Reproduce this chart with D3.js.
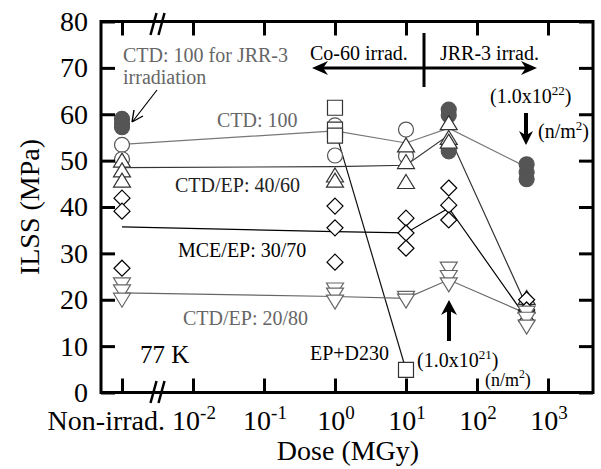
<!DOCTYPE html>
<html>
<head>
<meta charset="utf-8">
<script src="https://cdn.jsdelivr.net/npm/d3@7"></script>
<style>
  body { margin: 0; background: #fff; }
  svg, svg text { font-family: "Liberation Serif", "DejaVu Serif", "Times New Roman", serif; }
</style>
</head>
<body>
<script>
"use strict";

// dose columns (MGy); the non-irradiated samples sit one decade left of 10^-2, before the axis break
const NON_IRRAD = 1e-3;
const doses = [NON_IRRAD, 1, 10, 40, 500];

const xTickDoses = [NON_IRRAD, 1e-2, 1e-1, 1, 10, 100, 1000];
const xTickExp = [null, "-2", "-1", "0", "1", "2", "3"];
const yTicks = [0, 10, 20, 30, 40, 50, 60, 70, 80];

// individual ILSS values (MPa) per dose column
const ctd100Pts  = [[53.4, 50.3], [57.6, 51.1], [56.7, 51], [], []];
const jrrPts     = [[59, 58, 57.2], [], [], [61, 59.8, 52.6, 52], [49.2, 47.5, 46]];
const epD230Pts  = [[], [61.4, 56.7, 55.4], [4.9], [], []];
const ctdEp4060Pts = [[50.1, 48, 45.8], [46.9, 45.8], [53.4, 49.8, 45.5], [58.2, 55, 54.2], [20.5, 18.7]];
const mceEp3070Pts = [[41.9, 39.1, 26.8], [40.2, 35.5, 28.1], [37.6, 34.4, 31.1], [44.1, 40.4, 37.2], [20, 17.8, 15.4]];
const ctdEp2080Pts = [[23.2, 21.7, 19.9], [22.1, 21, 19.5], [20.3, 19.7], [26.6, 24.8, 23.2], [17.1, 15.8, 14.1]];

// average lines
const ctd100Line    = [53.5, 56.4, 53.8, 57, 48.6];
const epD230Line    = [null, 56.7, 4.9, null, null];
const ctdEp4060Line = [48.5, 48.7, 49, 55.5, 18.6];
const mceEp3070Line = [35.7, 34.7, 34.4, 39.8, 16];
const ctdEp2080Line = [21.5, 20.7, 20.3, 24.3, 17];

const FONT = "'Liberation Serif', 'DejaVu Serif', 'Times New Roman', serif";
const width = 601, height = 469;
const frame = {left: 101, right: 593, top: 21.5, bottom: 392.5};

let svg = d3.select("body").append("svg")
    .attr("width", width)
    .attr("height", height)
    .attr("font-family", FONT);

let x = d3.scaleLog().domain([1e-2, 1e3]).range([193, 548]);
let y = d3.scaleLinear().domain([0, 80]).range([frame.bottom, frame.top]);

// ---- lines (under markers)
let line = d3.line()
    .defined(d => d[1] != null)
    .x(d => x(d[0]))
    .y(d => y(d[1]));

function drawLine(vals, color) {
    svg.append("path")
        .attr("d", line(doses.map((d, i) => [d, vals[i]])))
        .attr("fill", "none")
        .attr("stroke", color)
        .attr("stroke-width", 1.2);
}
drawLine(ctd100Line, "#777");
drawLine(epD230Line, "#111");
drawLine(ctdEp4060Line, "#333");
drawLine(mceEp3070Line, "#000");
drawLine(ctdEp2080Line, "#666");

// ---- markers
const shapes = {
    circle: d3.symbol(d3.symbolCircle, Math.PI * 7.5 * 7.5)(),
    square: d3.symbol(d3.symbolSquare, 225)(),
    diamond: "M0,-8L8,0L0,8L-8,0Z",
    up: "M0,-7L8.5,7L-8.5,7Z",
    down: "M0,7L8.5,-7L-8.5,-7Z"
};

function drawPts(cols, shape, stroke, fill) {
    let pts = [];
    cols.forEach((vals, i) => vals.forEach(v => pts.push([doses[i], v])));
    svg.append("g").selectAll("path")
        .data(pts)
        .enter().append("path")
        .attr("d", shapes[shape])
        .attr("transform", d => "translate(" + x(d[0]) + "," + y(d[1]) + ")")
        .attr("fill", fill)
        .attr("stroke", stroke)
        .attr("stroke-width", 1.2);
}
drawPts(jrrPts, "circle", "#555", "#555");
drawPts(ctd100Pts, "circle", "#555", "#fff");
drawPts(epD230Pts, "square", "#333", "#fff");
drawPts(ctdEp4060Pts, "up", "#333", "#fff");
drawPts(mceEp3070Pts, "diamond", "#000", "#fff");
drawPts(ctdEp2080Pts, "down", "#666", "#fff");

// ---- axes (ticks point inwards on all four sides)
function strip(g) {
    g.select(".domain").remove();
    g.attr("font-family", FONT);
}
svg.append("g")
    .attr("transform", "translate(" + frame.left + ",0)")
    .call(d3.axisLeft(y).tickValues(yTicks).tickSizeInner(-14).tickSizeOuter(0).tickPadding(13))
    .call(strip);
svg.append("g")
    .attr("transform", "translate(" + frame.right + ",0)")
    .call(d3.axisRight(y).tickValues(yTicks).tickSizeInner(-14).tickSizeOuter(0).tickFormat(""))
    .call(strip);
svg.append("g")
    .attr("transform", "translate(0," + frame.top + ")")
    .call(d3.axisTop(x).tickValues(xTickDoses).tickSizeInner(-14).tickSizeOuter(0).tickFormat(""))
    .call(strip);
svg.append("g")
    .attr("transform", "translate(0," + frame.bottom + ")")
    .call(d3.axisBottom(x).tickValues(xTickDoses).tickSizeInner(-14).tickSizeOuter(0).tickFormat(""))
    .call(strip);

svg.selectAll(".tick line").attr("stroke", "#000").attr("stroke-width", 3);
svg.selectAll(".tick text")
    .attr("font-size", 28)
    .attr("fill", "#000");

svg.append("rect")
    .attr("x", frame.left).attr("y", frame.top)
    .attr("width", frame.right - frame.left)
    .attr("height", frame.bottom - frame.top)
    .attr("fill", "none")
    .attr("stroke", "#000")
    .attr("stroke-width", 3);

// axis break marks
let bx = x(Math.pow(10, -2.5));
[[frame.top, 13, 35], [frame.bottom, 381, 403]].forEach(b => {
    [-4, 4].forEach(off => {
        svg.append("line")
            .attr("x1", bx + off - 3).attr("y1", b[2])
            .attr("x2", bx + off + 3).attr("y2", b[1])
            .attr("stroke", "#000").attr("stroke-width", 2.5);
    });
});

// x tick labels
xTickDoses.forEach((d, i) => {
    if (xTickExp[i] == null) {
        svg.append("text")
            .attr("x", 165).attr("y", 430)
            .attr("text-anchor", "end")
            .attr("font-size", 28)
            .text("Non-irrad.");
        return;
    }
    let t = svg.append("text")
        .attr("x", x(d) + 1).attr("y", 430)
        .attr("text-anchor", "middle")
        .attr("font-size", 28);
    t.append("tspan").text("10");
    t.append("tspan").attr("dy", -11).attr("font-size", 19).text(xTickExp[i]);
});

svg.append("text")
    .attr("x", 348).attr("y", 460)
    .attr("text-anchor", "middle")
    .attr("font-size", 28)
    .text("Dose (MGy)");

svg.append("text")
    .attr("transform", "translate(39,207) rotate(-90)")
    .attr("text-anchor", "middle")
    .attr("font-size", 28)
    .text("ILSS (MPa)");

// ---- annotations
function label(tx, ty, str, color, size) {
    return svg.append("text")
        .attr("x", tx).attr("y", ty)
        .attr("font-size", size || 20)
        .attr("fill", color || "#000")
        .text(str);
}
function supLabel(tx, ty, parts, size) {
    let t = svg.append("text").attr("x", tx).attr("y", ty).attr("font-size", size);
    t.append("tspan").text(parts[0]);
    t.append("tspan").attr("dy", -8).attr("font-size", size * 0.65).text(parts[1]);
    t.append("tspan").attr("dy", 8).text(parts[2]);
}

label(123, 62, "CTD: 100 for JRR-3", "#666");
label(123, 84, "irradiation", "#666");
label(217, 127, "CTD: 100", "#666");
label(175, 192, "CTD/EP: 40/60", "#222");
label(178, 257, "MCE/EP: 30/70", "#000");
label(183, 325, "CTD/EP: 20/80", "#666");
label(140, 363, "77 K", "#000", 25);
label(310, 360, "EP+D230", "#000");
label(310, 60, "Co-60 irrad.", "#000");
label(440, 60, "JRR-3 irrad.", "#000");
supLabel(417, 367, ["(1.0x10", "21", ")"], 20);
supLabel(485, 386, ["(n/m", "2", ")"], 18);
supLabel(490, 103, ["(1.0x10", "22", ")"], 20);
supLabel(538, 138, ["(n/m", "2", ")"], 20);

// thin pointer to the JRR-3 reference samples
svg.append("line")
    .attr("x1", 157).attr("y1", 90).attr("x2", 133).attr("y2", 121)
    .attr("stroke", "#000").attr("stroke-width", 1.2);
svg.append("path")
    .attr("d", "M132,122 L134,110 M132,122 L143,116")
    .attr("fill", "none").attr("stroke", "#000").attr("stroke-width", 1.4);

// Co-60 / JRR-3 divider and arrows
svg.append("line")
    .attr("x1", 424).attr("y1", 33).attr("x2", 424).attr("y2", 87)
    .attr("stroke", "#000").attr("stroke-width", 3);
svg.append("line")
    .attr("x1", 322).attr("y1", 68).attr("x2", 528).attr("y2", 68)
    .attr("stroke", "#000").attr("stroke-width", 3);

// swept arrowhead, tip at origin pointing along +x
function arrowHead(tx, ty, angle, len, half) {
    svg.append("path")
        .attr("d", "M0,0 L" + (-len) + "," + (-half) + " L" + (-len * 0.7) + ",0 L" + (-len) + "," + half + "Z")
        .attr("transform", "translate(" + tx + "," + ty + ") rotate(" + angle + ")")
        .attr("fill", "#000");
}
arrowHead(312, 68, 180, 16, 7);
arrowHead(537, 68, 0, 16, 7);

// thick dose arrows
svg.append("line")
    .attr("x1", 526).attr("y1", 113).attr("x2", 526).attr("y2", 136)
    .attr("stroke", "#000").attr("stroke-width", 4);
arrowHead(526, 145, 90, 14, 7);
svg.append("line")
    .attr("x1", 449).attr("y1", 341).attr("x2", 449).attr("y2", 310)
    .attr("stroke", "#000").attr("stroke-width", 4);
arrowHead(449, 300, -90, 15, 8);
</script>
</body>
</html>
